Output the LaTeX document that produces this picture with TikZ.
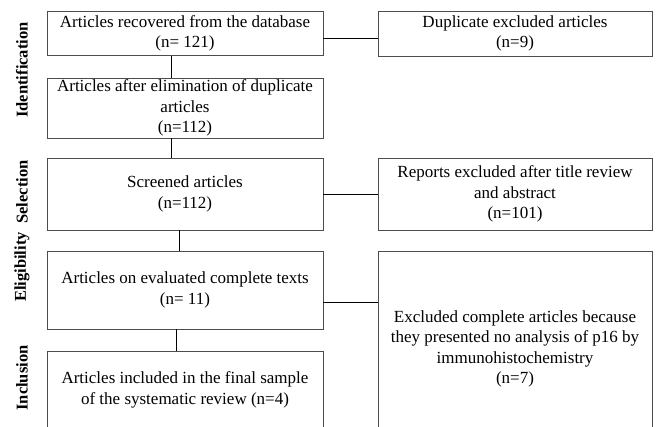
\documentclass[tikz,border=0pt]{standalone}
\usepackage{fontspec}
\setmainfont{Liberation Serif}

\begin{document}
\begin{tikzpicture}[
        x=1pt, y=-1pt,
        stage/.style={draw=black!70, line width=0.9pt, align=center, inner sep=0pt, minimum width=276pt, font=\fontsize{17}{20.5}\selectfont},
        phase/.style={rotate=90, font=\fontsize{16.5}{18}\selectfont\bfseries},
        link/.style={draw=black, line width=0.9pt}
        ]
        \clip (0,0) rectangle (657,427);

        \node[phase] (identification) at (22,70) {Identification};
        \node[phase] (selection) at (22,192) {Selection};
        \node[phase] (eligibility) at (22,267) {Eligibility};
        \node[phase] (inclusion) at (22,378) {Inclusion};

        \node[stage, minimum height=44pt] (recovered) at (185,33.5) {Articles recovered from the database\\(n= 121)};
        \node[stage, minimum height=60pt] (nodup) at (185,108) {Articles after elimination of duplicate\\articles\\(n=112)};
        \node[stage, minimum height=72pt] (screened) at (185,194) {Screened articles\\(n=112)};
        \node[stage, minimum height=78pt] (fulltext) at (185,290) {Articles on evaluated complete texts\\(n= 11)};
        \node[stage, minimum height=78pt] (included) at (185,390) {Articles included in the final sample\\of the systematic review (n=4)};

        \node[stage, minimum width=274pt, minimum height=45pt] (duplicates) at (515,33.5) {Duplicate excluded articles\\(n=9)};
        \node[stage, minimum width=274pt, minimum height=72pt] (reports) at (515,194) {Reports excluded after title review\\and abstract\\(n=101)};
        \node[stage, minimum width=274pt, minimum height=196pt] (nop16) at (515,349) {Excluded complete articles because\\they presented no analysis of p16 by\\immunohistochemistry\\(n=7)};

        \draw[link] ([xshift=-14pt]recovered.south) -- ([xshift=-14pt]nodup.north);
        \draw[link] ([xshift=-14pt]nodup.south) -- ([xshift=-14pt]screened.north);
        \draw[link] ([xshift=-6pt]screened.south) -- ([xshift=-6pt]fulltext.north);
        \draw[link] ([xshift=-9pt]fulltext.south) -- ([xshift=-9pt]included.north);

        \draw[link] ([yshift=-4.5pt]recovered.east) -- ([yshift=-4.5pt]recovered.east -| duplicates.west);
        \draw[link] (screened.east) -- (reports.west);
        \draw[link] ([yshift=-12pt]fulltext.east) -- ([yshift=-12pt]fulltext.east -| nop16.west);
    \end{tikzpicture}
\end{document}
